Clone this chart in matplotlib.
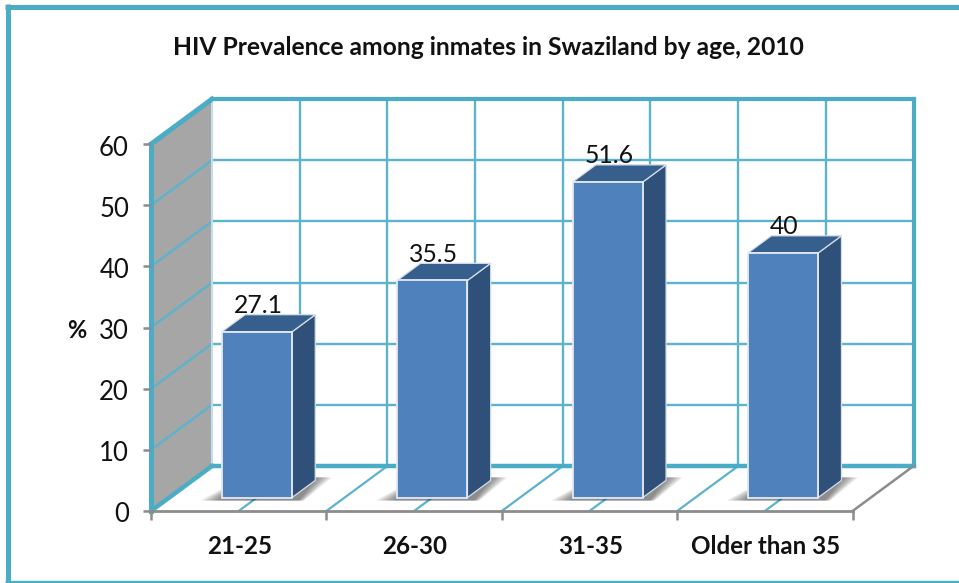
import matplotlib
matplotlib.use("Agg")
import matplotlib.pyplot as plt
import numpy as np

categories = ["21-25", "26-30", "31-35", "Older than 35"]
values = [27.1, 35.5, 51.6, 40]
value_labels = ["27.1", "35.5", "51.6", "40"]
yticks = [0, 10, 20, 30, 40, 50, 60]
title = "HIV Prevalence among inmates in Swaziland by age, 2010"

W, H = 959, 583
X0, Y0 = 151, 511      # pixel position of the front origin
UX, UY = 175.4, 6.115  # pixels per category / per percent
DX, DY = 61 / UX, 45 / UY  # depth vector in data units
D0, D1 = 0.30, 0.68    # bar depth range
BW = 0.4
TEAL = "#4BACC6"
GRID = "#5BB3CC"
GRAY = "#8C8C8C"
TEXT = "#111111"

plt.rcParams["font.family"] = ["Lato", "DejaVu Sans"]
fig = plt.figure(figsize=(W / 100, H / 100), dpi=100)
ax = fig.add_axes([0, 0, 1, 1])
ax.set_xlim(-X0 / UX, (W - X0) / UX)
ax.set_ylim(-(H - Y0) / UY, Y0 / UY)
ax.axis("off")

def P(x, y, d):
    return x + d * DX, y + d * DY

def line(a, b, color=GRID, lw=1.6, z=2):
    ax.plot([a[0], b[0]], [a[1], b[1]], color=color, lw=lw, zorder=z, solid_capstyle="projecting")

def poly(pts, z=3, **kw):
    xs, ys = zip(*pts)
    ax.fill(xs, ys, zorder=z, **kw)

n = len(categories)
ymax = yticks[-1]

# outer frame: top, left and bottom only
ax.plot([5 / W, 1], [1 - 6.5 / H, 1 - 6.5 / H], color=TEAL, lw=3.6, transform=ax.transAxes,
        solid_capstyle="butt", zorder=1)
ax.plot([7.5 / W, 7.5 / W], [0, 1 - 4 / H], color=TEAL, lw=3.6, transform=ax.transAxes,
        solid_capstyle="butt", zorder=1)
ax.plot([5 / W, 1], [1.2 / H, 1.2 / H], color=TEAL, lw=2.4, transform=ax.transAxes,
        solid_capstyle="butt", zorder=1)

# left wall
poly([P(0, 0, 0), P(0, 0, 1), P(0, ymax, 1), P(0, ymax, 0)], z=1, color="#A6A6A6", lw=0)

# back wall grid
for t in yticks[1:-1]:
    line(P(0, t, 0), P(0, t, 1), lw=1.7)
    line(P(0, t, 1), P(n, t, 1), lw=1.7)
for k in range(1, 2 * n):
    line(P(k / 2, 0, 1), P(k / 2, ymax, 1), lw=1.7)

# floor lines
for k in range(1, 2 * n):
    line(P(k / 2, 0, 0), P(k / 2, 0, 1), lw=1.6)

# thick frame of the walls
line(P(0, ymax, 1), P(n, ymax, 1), TEAL, 3.0, 2.5)
line(P(0, 0, 1), P(n, 0, 1), TEAL, 3.2, 2.5)
line(P(n, 0, 1), P(n, ymax, 1), TEAL, 3.0, 2.5)
line(P(0, 0, 1), P(0, ymax, 1), "#BFE0EA", 1.5, 2.5)
line(P(0, 0, 0), P(0, ymax, 0), TEAL, 3.6, 2.5)
line(P(0, ymax, 0), P(0, ymax, 1), TEAL, 3.6, 2.5)
line(P(0, 0, 0), P(0, 0, 1), TEAL, 3.2, 2.5)

# gray axes on the floor front
line(P(0, 0, 0), P(n, 0, 0), GRAY, 2.0, 2.6)
line(P(n, 0, 0), P(n, 0, 1), GRAY, 1.8, 2.6)
for k in range(n + 1):
    ax.plot([k, k], [0, -9 / UY], color=GRAY, lw=1.8, zorder=2.6, solid_capstyle="butt")
for t in yticks:
    ax.plot([-8 / UX, 0], [t, t], color=GRAY, lw=1.8, zorder=2.6, solid_capstyle="butt")
    ax.text(-22 / UX, t - 1.5 / UY, str(t), ha="right", va="center_baseline", fontsize=18.5,
            color=TEXT)

# bars
centers = np.arange(n) + 0.5
front_x = centers + D0 * DX
base = D0 * DY
for cx, v in zip(centers, values):
    l, r = cx - BW / 2, cx + BW / 2
    # floor shadow: stacked translucent layers, darkest next to the bar
    for s in np.linspace(1, 0.1, 14):
        lx = P(l, 0, D0)[0]
        xbk = P(r, 0, D1)[0]
        ylo = base - 3 / UY
        ytr = P(r, 0, D1)[1] + 3 / UY
        poly([(lx - 22 / UX * s, ylo), (P(r, 0, D0)[0] + 6 / UX + 6 / UX * s, ylo),
              (xbk + 17 / UX * s, ytr), (xbk, ytr), (lx, base + 9 / UY * s)],
             z=2.8, color="#404040", alpha=0.06, lw=0)
    poly([P(r, 0, D0), P(r, 0, D1), P(r, v, D1), P(r, v, D0)], color="#2F5078",
         edgecolor="#D5DEEA", lw=0.9, z=3)
    poly([P(l, v, D0), P(r, v, D0), P(r, v, D1), P(l, v, D1)], color="#375F8E",
         edgecolor="#D5DEEA", lw=0.9, z=3)
ax.bar(front_x, values, width=BW, bottom=base, color="#4F81BD", edgecolor="#E3E9F2",
       linewidth=1.3, zorder=4)

# value labels
for cx, v, s in zip(centers, values, value_labels):
    ax.text(cx + D0 * DX + 1 / UX, v + base + 26 / UY, s, ha="center", va="center",
            fontsize=17.8, color=TEXT, zorder=5)

# category labels
for cx, c in zip(centers, categories):
    ax.text(cx + 1 / UX, -35.5 / UY, c, ha="center", va="center", fontsize=17.4, fontweight="bold",
            color=TEXT)

ax.text(-74 / UX, 180 / UY, "%", ha="center", va="center", fontsize=17,
        fontweight="bold", color=TEXT)
ax.text((488 - X0) / UX, (Y0 - 47.5) / UY, title, ha="center", va="center", fontsize=17.7,
        fontweight="bold", color=TEXT)

fig.savefig("out.png", dpi=100)
